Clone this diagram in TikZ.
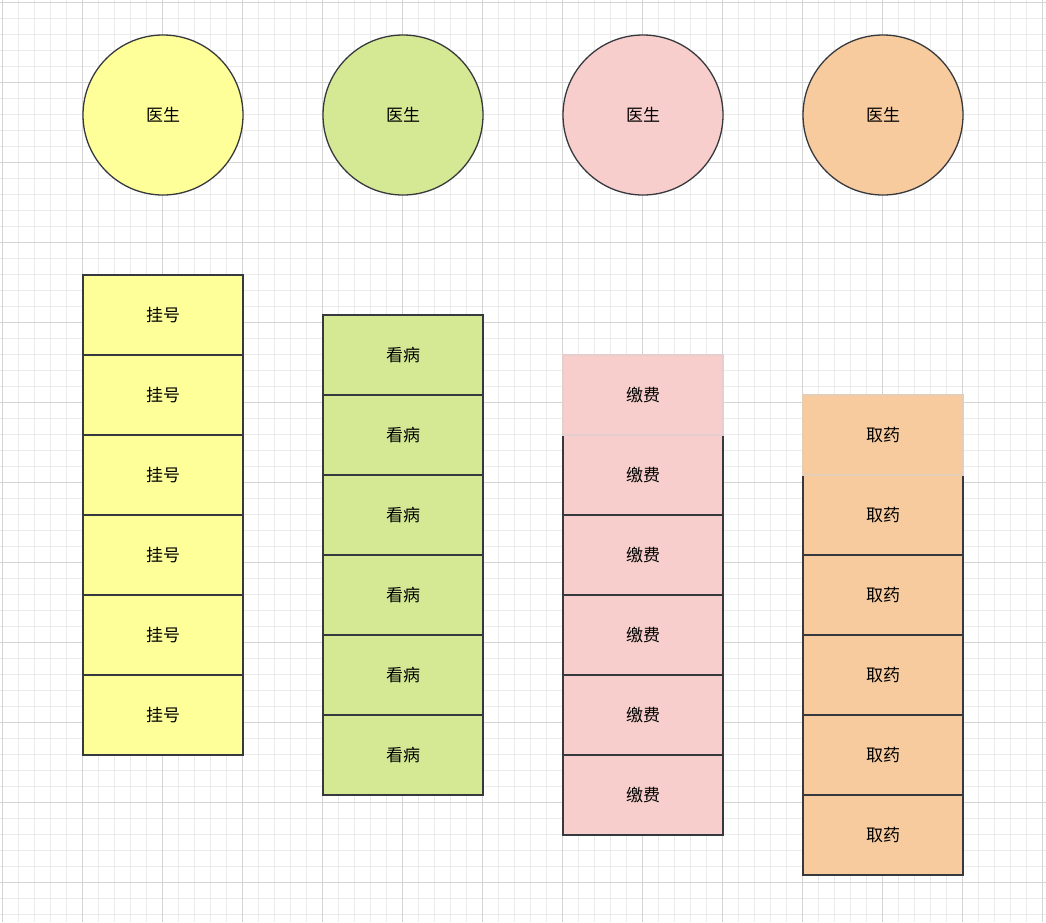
\documentclass[tikz,border=0pt]{standalone}
\usepackage{fontspec}
\setmainfont{Noto Sans CJK SC}
\begin{document}
\begin{tikzpicture}[x=1pt,y=-1pt,
  stroke/.style={draw=strokec,line width=1.3pt},
  person/.style={stroke,circle,minimum size=160pt,inner sep=0pt,font=\fontsize{17}{20}\selectfont},
  cell/.style={stroke,rectangle,minimum width=160pt,minimum height=80pt,inner sep=0pt,font=\fontsize{17}{20}\selectfont}]
\definecolor{strokec}{HTML}{36393D}
\definecolor{cy}{HTML}{FFFF99}
\definecolor{cg}{HTML}{D5E994}
\definecolor{cp}{HTML}{F8CECC}
\definecolor{co}{HTML}{F7CB9E}
\definecolor{gminor}{HTML}{EBEBEB}
\definecolor{gmajor}{HTML}{D4D4D4}
\useasboundingbox (0,0) rectangle (1046,922);
\fill[white] (0,0) rectangle (1046,922);
\foreach \i in {0,...,65} {\draw[gminor,line width=0.6pt] (2+16*\i,0) -- (2+16*\i,922);}
\foreach \i in {0,...,57} {\draw[gminor,line width=0.6pt] (0,2+16*\i) -- (1046,2+16*\i);}
\foreach \i in {0,...,13} {\draw[gmajor,line width=0.7pt] (2+80*\i,0) -- (2+80*\i,922);}
\foreach \i in {0,...,11} {\draw[gmajor,line width=0.7pt] (0,2+80*\i) -- (1046,2+80*\i);}
\node[person,fill=cy] (p1) at (163,115) {医生};
\node[person,fill=cg] (p2) at (403,115) {医生};
\node[person,fill=cp] (p3) at (643,115) {医生};
\node[person,fill=co] (p4) at (883,115) {医生};
\foreach \k in {1,...,6} {
  \node[cell,fill=cy] (a\k) at (163,235+80*\k) {挂号};
  \node[cell,fill=cg] (b\k) at (403,275+80*\k) {看病};
}
\foreach \k in {2,...,6} {
  \node[cell,fill=cp] (c\k) at (643,315+80*\k) {缴费};
  \node[cell,fill=co] (d\k) at (883,355+80*\k) {取药};
}
\node[cell,fill=cp,draw=cp!85!black!60] (c1) at (643,395) {缴费};
\node[cell,fill=co,draw=co!85!black!60] (d1) at (883,435) {取药};
\end{tikzpicture}
\end{document}
